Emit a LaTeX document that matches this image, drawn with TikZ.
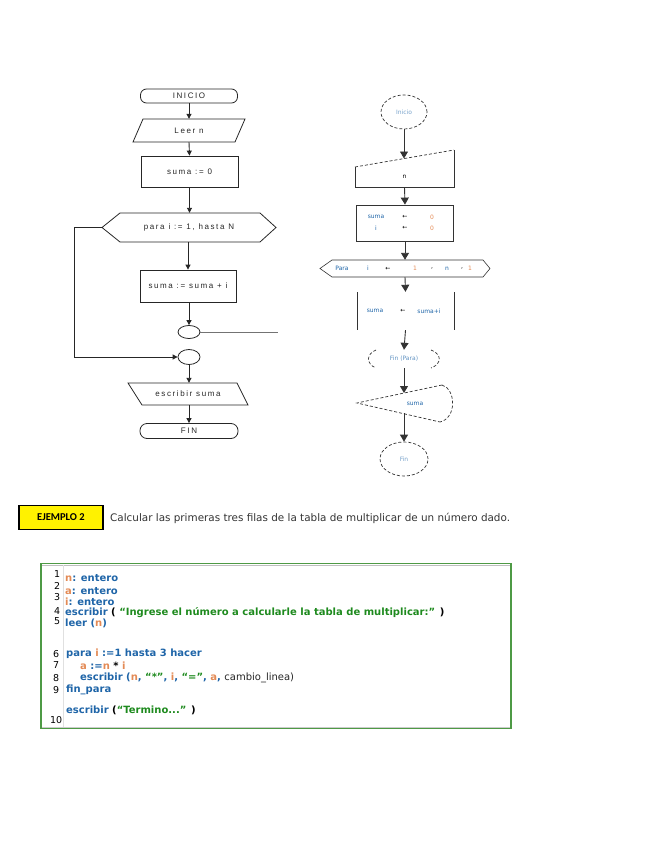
\documentclass[tikz,border=0pt]{standalone}
\usepackage{fontspec}
\setmainfont{Liberation Sans}
\newfontfamily\fcfont[LetterSpace=20]{Liberation Sans}
\newfontfamily\vfont{DejaVu Sans}
\newfontfamily\cbfont{Carlito}
\usetikzlibrary{arrows.meta,shapes.geometric,calc}
\definecolor{kwblue}{HTML}{1F65A8}
\definecolor{varor}{HTML}{E38A55}
\definecolor{strgr}{HTML}{1E8A1E}
\definecolor{boxgr}{HTML}{4E9A45}
\newcommand\ckw[1]{\textcolor{kwblue}{#1}}
\newcommand\cvar[1]{\textcolor{varor}{#1}}
\newcommand\cstr[1]{\textcolor{strgr}{#1}}
\tikzset{
  fcline/.style={draw=black!85, line width=0.8pt},
  fcarrow/.style={draw=black!85, line width=0.9pt, -{Triangle[length=5pt,width=5pt]}},
  rcarrow/.style={draw=black!80, line width=0.9pt, -{Triangle[length=7pt,width=8pt]}},
  fctext/.style={font=\fcfont\fontsize{8}{9}\selectfont, text=black!85},
  rtext/.style={font=\vfont\fontsize{6}{7}\selectfont, inner sep=0pt},
  ghost/.style={inner sep=0pt, minimum width=#1},
  rdash/.style={draw=black!80, line width=0.7pt, dash pattern=on 3pt off 2pt},
  rsolid/.style={draw=black!80, line width=0.8pt},
  codeln/.style={font=\vfont\bfseries\fontsize{10}{11}\selectfont, anchor=west, inner sep=0pt},
  lnum/.style={font=\vfont\fontsize{9.5}{11}\selectfont, anchor=west, inner sep=0pt},
}
\begin{document}
\begin{tikzpicture}[x=1pt,y=-1pt]
\useasboundingbox (0,0) rectangle (655,848);

% ---------------- left flowchart ----------------
\node[fcline, fctext, rounded corners=6pt, minimum width=97pt, minimum height=14pt, inner sep=0pt] (ini) at (189,96) {INICIO};
\node[fctext, inner sep=0pt, minimum width=104pt, minimum height=23pt] (leer) at (189,130.5) {Leer n};
\draw[fcline] (143,119) -- (245,119) -- (235,142) -- (133,142) -- cycle;
\node[fcline, fctext, minimum width=97pt, minimum height=31pt, inner sep=0pt] (s0) at (189.5,171.5) {suma := 0};
\node[fctext, inner sep=0pt, minimum width=174pt, minimum height=29pt] (hex) at (189,227.5) {para i := 1, hasta N};
\draw[fcline] (102,227.5) -- (120,213) -- (260,213) -- (276,227.5) -- (260,242) -- (120,242) -- cycle;
\node[fcline, fctext, minimum width=96pt, minimum height=32pt, inner sep=0pt] (s1) at (188,286) {suma := suma + i};
\node[fcline, ellipse, minimum width=22pt, minimum height=13pt, inner sep=0pt] (c1) at (189,332) {};
\node[fcline, ellipse, minimum width=22pt, minimum height=15pt, inner sep=0pt] (c2) at (189,357) {};
\node[fctext, inner sep=0pt, minimum width=120pt, minimum height=22pt] (esc) at (188,394) {escribir suma};
\draw[fcline] (128,383) -- (237,383) -- (248,405) -- (142,405) -- cycle;
\node[fcline, fctext, rounded corners=7pt, minimum width=98pt, minimum height=15pt, inner sep=0pt] (fin) at (189,431) {FIN};

\draw[fcarrow] (ini.south) -- (leer.north);
\draw[fcarrow] (leer.south) -- (s0.north);
\draw[fcarrow] (s0.south) -- (s0.south |- hex.north);
\draw[fcarrow] (hex.south -| s1.north) -- (s1.north);
\draw[fcarrow] (s1.south -| c1.north) -- (c1.north);
\draw[fcarrow] (c2.south) -- (c2.south |- esc.north);
\draw[fcarrow] (esc.south -| fin.north) -- (fin.north);
\coordinate (lp) at (74,227.5);
\draw[fcarrow] (hex.west) -- (lp) |- (c2.west);
\coordinate (cx) at (278,332);
\draw[draw=black!55, line width=0.6pt] (c1.east) -- (cx);

% ---------------- right flowchart ----------------
\node[rdash, ellipse, minimum width=46pt, minimum height=34pt, inner sep=0pt, rtext, text=kwblue!60] (rini) at (404,112) {Inicio};
\node[ghost=99pt, minimum height=20pt, rtext] (rn) at (404.5,177) {n};
\draw[rdash] (355,167) -- (454,150);
\draw[rsolid] (454,150) -- (454,187) -- (355,187) -- (355,167);
\coordinate (rntop) at (404,158.5);
\node[rsolid, minimum width=97pt, minimum height=36pt, inner sep=0pt] (rset) at (405,223) {};
\node[rtext, text=kwblue] (rs1a) at (376,217) {suma};
\node[rtext] (rs1b) at (405,217) {←};
\node[rtext, text=varor] (rs1c) at (432,217) {0};
\node[rtext, text=kwblue] (rs2a) at (376,228) {i};
\node[rtext] (rs2b) at (405,228) {←};
\node[rtext, text=varor] (rs2c) at (432,228) {0};
\node[ghost=170pt, minimum height=17pt] (rhex) at (405,268.5) {};
\draw[rsolid, line width=0.6pt] (320,268.5) -- (332,260) -- (483,260) -- (490,268.5) -- (483,277) -- (332,277) -- cycle;
\node[rtext, text=kwblue] (rh1) at (342,268.5) {Para};
\node[rtext, text=kwblue] (rh2) at (368,268.5) {i};
\node[rtext] (rh3) at (388,268.5) {←};
\node[rtext, text=varor] (rh4) at (415,268.5) {1};
\node[rtext] (rh5) at (432,268.5) {,};
\node[rtext, text=kwblue] (rh6) at (447,268.5) {n};
\node[rtext] (rh7) at (462,268.5) {,};
\node[rtext, text=varor] (rh8) at (470,268.5) {1};
\node[ghost=97pt, minimum height=38pt] (rproc) at (405.5,311) {};
\draw[rsolid] (357,292) -- (357,330);
\draw[rsolid] (454,292) -- (454,330);
\node[rtext, text=kwblue] (rp1) at (375,311) {suma};
\node[rtext] (rp2) at (403,311) {←};
\node[rtext, text=kwblue] (rp3) at (429,311) {suma+i};
\node[ghost=72pt, minimum height=18pt, rtext, text=kwblue!70] (rfp) at (404,359) {Fin (Para)};
\draw[rdash] (376,350) .. controls (366,354) and (366,364) .. (376,368);
\draw[rdash] (431,350) .. controls (442,354) and (442,364) .. (431,368);
\node[rtext, text=kwblue] (rdisp) at (415,404) {suma};
\draw[rdash] (442,385) -- (357,403) -- (440,422);
\draw[rdash] (442,385) .. controls (456,389) and (457,418) .. (440,422);
\coordinate (dtop) at (404,393);
\coordinate (dbot) at (404,413);
\node[rdash, ellipse, minimum width=48pt, minimum height=34pt, inner sep=0pt, rtext, text=kwblue!60] (rfin) at (404,459) {Fin};

\draw[rcarrow] (rini.south) -- (rntop);
\draw[rcarrow] (rn.south) -- (rset.north);
\draw[rcarrow] (rset.south) -- (rhex.north);
\draw[rcarrow] (rhex.south) -- (rproc.north);
\draw[rcarrow] (rproc.south) -- (rfp.north);
\draw[rcarrow] (rfp.south) -- (dtop);
\draw[rcarrow] (dbot) -- (rfin.north);

% ---------------- Ejemplo 2 ----------------
\node[draw=black, line width=1.4pt, fill=yellow, minimum width=84pt, minimum height=24pt, inner sep=0pt,
      font=\cbfont\bfseries\fontsize{10.5}{12}\selectfont] (ej) at (61,517.5) {EJEMPLO 2};
\node[anchor=west, inner sep=0pt, font=\vfont\fontsize{10.4}{12}\selectfont, text=black!80] (calc) at (110,518)
  {Calcular las primeras tres filas de la tabla de multiplicar de un número dado.};

% ---------------- code box ----------------
\node[draw=boxgr, line width=1.6pt, minimum width=470pt, minimum height=165pt, inner sep=0pt] (cbox) at (276,646) {};
\draw[black!25, line width=1pt] ($(cbox.north west)+(2,2.5)$) -- ($(cbox.north east)+(-2,2.5)$);
\draw[black!20, line width=0.8pt] ($(cbox.south west)+(2,-2)$) -- ($(cbox.south east)+(-2,-2)$);
\coordinate (gt) at (63,565);
\coordinate (gb) at (63,727);
\draw[black!12, line width=1pt] (gt) -- (gb);

\node[lnum] (n1) at (54,574) {1};
\node[lnum] (n2) at (54,586) {2};
\node[lnum] (n3) at (54,597) {3};
\node[lnum] (n4) at (54,611) {4};
\node[lnum] (n5) at (54,621) {5};
\node[lnum] (n6) at (53,654) {6};
\node[lnum] (n7) at (53,665) {7};
\node[lnum] (n8) at (53,678) {8};
\node[lnum] (n9) at (53,690) {9};
\node[lnum] (n10) at (50,720) {10};

\node[codeln] (l1) at (65,578) {\cvar{n}\ckw{: entero}};
\node[codeln] (l2) at (65,591) {\cvar{a}\ckw{: entero}};
\node[codeln] (l3) at (65,602) {\cvar{i}\ckw{: entero}};
\node[codeln] (l4) at (65,612.5) {\ckw{escribir} ( \cstr{“Ingrese el número a calcularle la tabla de multiplicar:”} )};
\node[codeln] (l5) at (65,623.5) {\ckw{leer (}\cvar{n}\ckw{)}};
\node[codeln] (l6) at (66,654) {\ckw{para} \cvar{i} \ckw{:=1 hasta 3 hacer}};
\node[codeln] (l7) at (80,666) {\cvar{a} \ckw{:=}\cvar{n} * \cvar{i}};
\node[codeln] (l8) at (80,678) {\ckw{escribir (}\cvar{n}\ckw{, }\cstr{“*”}\ckw{, }\cvar{i}\ckw{, }\cstr{“=”}\ckw{, }\cvar{a}\ckw{, }{\mdseries\color{black!85}cambio\_linea)}};
\node[codeln] (l9) at (66,690) {\ckw{fin\_para}};
\node[codeln] (l10) at (66,710) {\ckw{escribir} (\cstr{“Termino...”} )};
\end{tikzpicture}
\end{document}
